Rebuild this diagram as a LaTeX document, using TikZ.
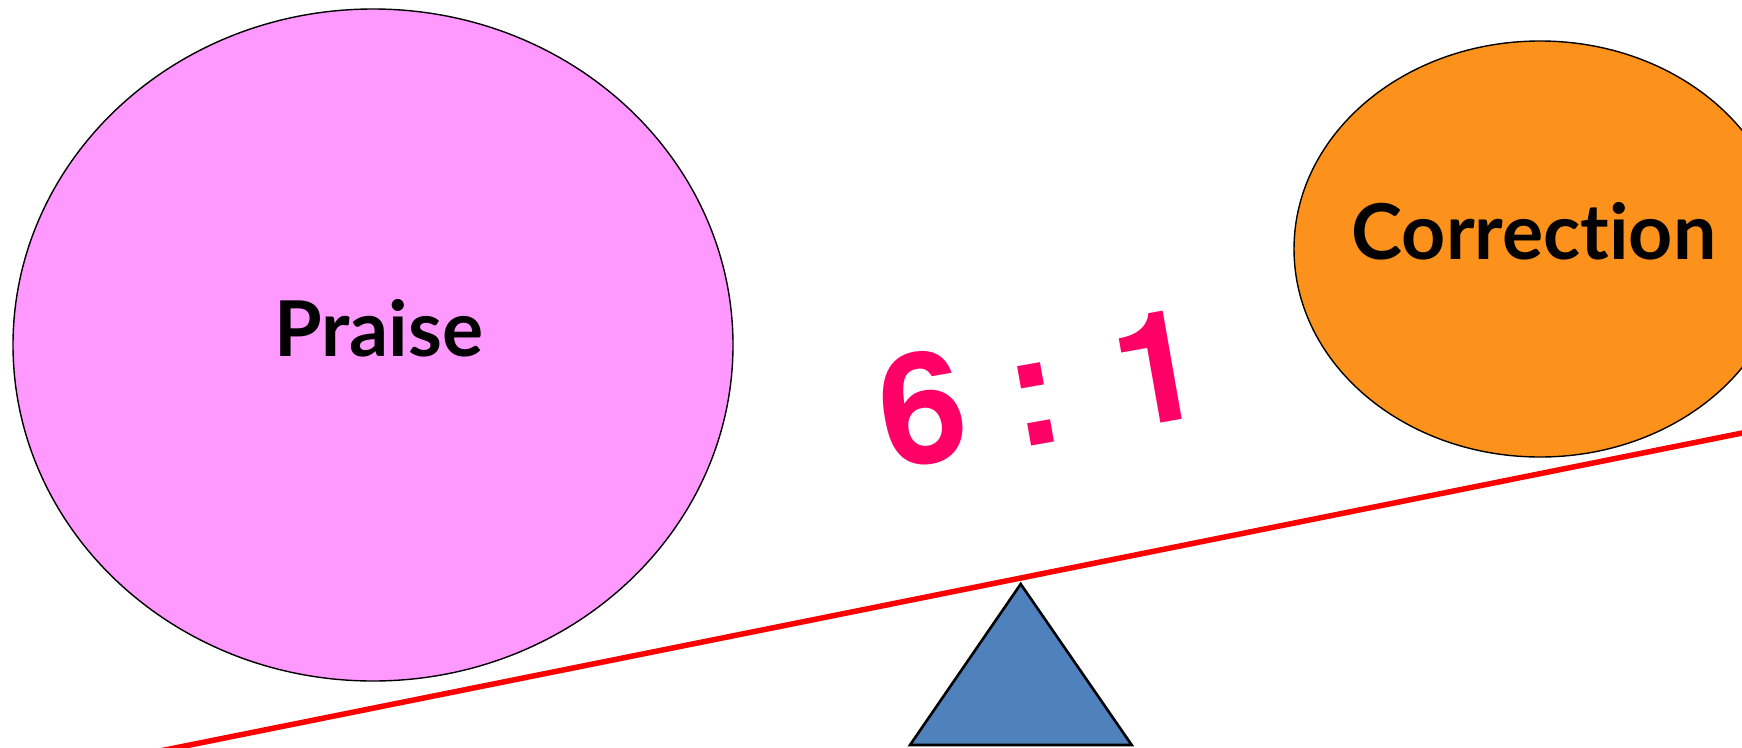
\documentclass[tikz,border=0pt]{standalone}
\usepackage{fontspec}
\setmainfont{Lato}[Ligatures={NoCommon,TeX}]
\newfontfamily\digitsfont{TeX Gyre Heros}
\usepackage{tikz}
\usetikzlibrary{positioning,calc}
\usetikzlibrary{shapes.geometric}
\definecolor{PraisePink}{RGB}{255,153,255}
\definecolor{FixOrange}{RGB}{252,146,28}
\definecolor{RatioPink}{RGB}{255,0,102}
\definecolor{PivotBlue}{RGB}{79,129,189}
\tikzset{
  blob/.style={ellipse,draw=black,line width=1.4pt,inner sep=0pt},
  word/.style={inner sep=0pt,font=\fontsize{77}{80}\selectfont\bfseries},
  beam/.style={draw=red,line width=5.5pt},
  fulcrum/.style={draw=black,fill=PivotBlue,line width=2.6pt,line join=miter},
  ratio/.style={inner sep=0pt,text=RatioPink,rotate=10,
    font=\digitsfont\bfseries\fontsize{155}{160}\selectfont},
}
\begin{document}
\begin{tikzpicture}[x=1pt,y=-1pt]
\clip (0,0) rectangle (1742,747);
\fill[white] (0,0) rectangle (1742,747);
\node[blob,fill=PraisePink,minimum width=720,minimum height=672] (praise) at (373,345) {};
\node[blob,fill=FixOrange,minimum width=492,minimum height=416] (correction) at (1540,249) {};
\node[word] (praiseword) at ([xshift=6pt,yshift=17pt]praise.center) {Praise};
\node[word] (correctionword) at ([xshift=-6pt,yshift=18pt]correction.center) {Correction};
\coordinate (beamL) at (150,753);
\coordinate (beamR) at (1800,421.4);
\draw[beam] (beamL) -- (beamR);
\coordinate (apex) at (1020.7,584);
\coordinate (baseL) at (910,745);
\coordinate (baseR) at (1131.7,745);
\draw[fulcrum] (apex) -- (baseL) -- (baseR) -- cycle;
\node[ratio] (rate) at (1040,388) {6 : 1};
\end{tikzpicture}
\end{document}
